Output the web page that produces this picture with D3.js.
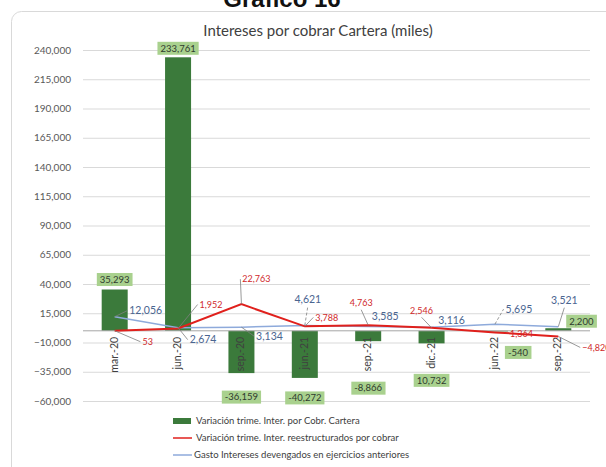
<!DOCTYPE html>
<html>
<head>
<meta charset="utf-8">
<script src="https://cdn.jsdelivr.net/npm/d3@7"></script>
<style>
  body { margin: 0; background: #fff; }
  svg { display: block; font-family: Lato, "Open Sans", sans-serif; }
</style>
</head>
<body>
<div id="chart"></div>
<script>
// Chart data
const categories = ["mar.-20", "jun.-20", "sep.-20", "jun.-21", "sep.-21", "dic.-21", "jun.-22", "sep.-22"];
const carteraVals = [35293, 233761, -36159, -40272, -8866, -10732, -540, 2200];
const carteraLabels = ["35,293", "233,761", "-36,159", "-40,272", "-8,866", "10,732", "-540", "2,200"];
const reestrVals = [53, 1952, 22763, 3788, 4763, 2546, -1364, -4820];
const gastoVals = [12056, 2674, 3134, 4621, 3585, 3116, 5695, 3521];
const yTicks = [240000, 215000, 190000, 165000, 140000, 115000, 90000, 65000, 40000, 15000, -10000, -35000, -60000];
const legendNames = [
    "Variación trime. Inter. por Cobr. Cartera",
    "Variación trime. Inter. reestructurados por cobrar",
    "Gasto Intereses devengados en ejercicios anteriores"
];

const width = 606;
const height = 467;

// label placement (offsets from the data point, in px)
const barLabelOff = [[0, -10], [0, -9], [0, 24], [0, 20], [0, 47], [0, 37], [23, 21], [23, -7]];
const redLabelOff = [[33, 11], [33, -24], [15, -25], [22, -9], [-7, -22], [-10, -17], [24, 1], [38, 11]];
const redLeader = [1, 1, 1, 1, 1, 1, 0, 1];
const blueLabelOff = [[31, -6], [25, 12], [28, 9], [3, -26], [17, -10], [20, -7], [24, -15], [6, -26]];
const blueLeader = [1, 1, 1, 2, 0, 0, 2, 1]; // 2 = dashed

const colors = { bar: "#3b7a3b", box: "#a9d18e", red: "#e0201c", blue: "#8eaadb", redText: "#d0282a", blueText: "#4a6590" };

const svg = d3.select("#chart").append("svg")
    .attr("width", width)
    .attr("height", height);

// card border + heading
svg.append("rect")
    .attr("x", 11.5).attr("y", 11.5)
    .attr("width", 640).attr("height", 500)
    .attr("rx", 10)
    .attr("fill", "#fff")
    .attr("stroke", "#d9d9d9");

svg.append("text")
    .attr("x", 282).attr("y", 7)
    .attr("text-anchor", "middle")
    .attr("font-family", "Liberation Sans, Arial, sans-serif")
    .attr("font-weight", "bold")
    .attr("font-size", 24)
    .attr("fill", "#111")
    .text("Gráfico 16");

svg.append("text")
    .attr("x", 318).attr("y", 36)
    .attr("text-anchor", "middle")
    .attr("font-size", 15)
    .attr("fill", "#404040")
    .text("Intereses por cobrar Cartera (miles)");

// scales
const x = d3.scaleBand().domain(categories).range([83, 590]);
const y = d3.scaleLinear().domain([-60000, 240000]).range([401, 50]);
const cx = c => x(c) + x.bandwidth() / 2;
const barW = 26;

// gridlines + y labels
const yAxis = d3.axisLeft(y).tickValues(yTicks).tickFormat(d3.format(",")).tickSize(-(590 - 83)).tickPadding(12);
const gy = svg.append("g").attr("transform", "translate(83,0)").call(yAxis);
gy.select(".domain").remove();
gy.selectAll(".tick line").attr("stroke", "#d9d9d9");
gy.selectAll(".tick text").attr("font-size", 10).attr("fill", "#595959").attr("font-family", "Lato, sans-serif");

// bars
svg.selectAll("rect.bar")
    .data(carteraVals)
    .enter().append("rect")
    .attr("class", "bar")
    .attr("x", (d, i) => cx(categories[i]) - barW / 2)
    .attr("y", d => y(Math.max(0, d)))
    .attr("width", barW)
    .attr("height", d => Math.abs(y(d) - y(0)))
    .attr("fill", colors.bar);

// zero line
svg.append("line")
    .attr("x1", 83).attr("x2", 590)
    .attr("y1", y(0)).attr("y2", y(0))
    .attr("stroke", "#a6a6a6");

// category labels (rotated)
svg.selectAll("text.cat")
    .data(categories)
    .enter().append("text")
    .attr("class", "cat")
    .attr("transform", d => `translate(${cx(d) + 3},${y(0) + 6}) rotate(-90)`)
    .attr("text-anchor", "end")
    .attr("font-size", 10.5)
    .attr("fill", "#404040")
    .text(d => d);

// lines
const lineGen = vals => d3.line()
    .x((d, i) => cx(categories[i]))
    .y(d => y(d))(vals);

svg.append("path").attr("d", lineGen(gastoVals))
    .attr("fill", "none").attr("stroke", colors.blue).attr("stroke-width", 1.5);
svg.append("path").attr("d", lineGen(reestrVals))
    .attr("fill", "none").attr("stroke", colors.red).attr("stroke-width", 2);

// point labels with leader lines
function pointLabels(vals, offs, leaders, color, size) {
    vals.forEach((v, i) => {
        const px = cx(categories[i]);
        const py = y(v);
        const lx = px + offs[i][0];
        const ly = py + offs[i][1];
        const t = svg.append("text")
            .attr("x", lx).attr("y", ly)
            .attr("dy", "0.35em")
            .attr("text-anchor", "middle")
            .attr("font-size", size)
            .attr("fill", color)
            .text(d3.format(",")(v));
        if (leaders[i]) {
            const bb = t.node().getBBox();
            let ex, ey;
            if (Math.abs(offs[i][0]) > bb.width / 2) {
                ex = lx - Math.sign(offs[i][0]) * (bb.width / 2 + 2);
                ey = ly;
            } else {
                ex = lx;
                ey = ly - Math.sign(offs[i][1]) * (bb.height / 2 + 1);
            }
            svg.append("line")
                .attr("x1", px).attr("y1", py)
                .attr("x2", ex).attr("y2", ey)
                .attr("stroke", "#7f7f7f")
                .attr("stroke-width", 0.8)
                .attr("stroke-dasharray", leaders[i] === 2 ? "3,2" : null);
        }
    });
}
pointLabels(gastoVals, blueLabelOff, blueLeader, colors.blueText, 10.5);
pointLabels(reestrVals, redLabelOff, redLeader, colors.redText, 9);

// bar value boxes
carteraVals.forEach((v, i) => {
    const lx = cx(categories[i]) + barLabelOff[i][0];
    const ly = y(v) + barLabelOff[i][1];
    const g = svg.append("g");
    const t = g.append("text")
        .attr("x", lx).attr("y", ly)
        .attr("dy", "0.35em")
        .attr("text-anchor", "middle")
        .attr("font-size", 9.5)
        .attr("fill", "#2f3a2f")
        .text(carteraLabels[i]);
    const bb = t.node().getBBox();
    g.insert("rect", "text")
        .attr("x", bb.x - 3).attr("y", ly - 6.5)
        .attr("width", bb.width + 6).attr("height", 13)
        .attr("fill", colors.box);
});

// legend
const legend = svg.append("g").attr("transform", "translate(173,421)");
legendNames.forEach((name, i) => {
    const gy = i * 17;
    if (i === 0) {
        legend.append("rect").attr("x", 0).attr("y", gy - 3).attr("width", 18).attr("height", 6).attr("fill", colors.bar);
    } else {
        legend.append("line").attr("x1", 0).attr("x2", 19).attr("y1", gy).attr("y2", gy)
            .attr("stroke", i === 1 ? colors.red : colors.blue).attr("stroke-width", i === 1 ? 1.5 : 1.5);
    }
    legend.append("text")
        .attr("x", i === 2 ? 21 : 23).attr("y", gy)
        .attr("dy", "0.35em")
        .attr("font-size", 9.5)
        .attr("fill", "#404040")
        .text(name);
});
</script>
</body>
</html>
